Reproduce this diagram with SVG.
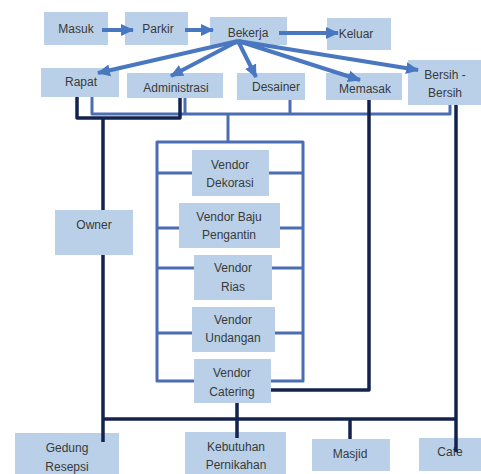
<svg xmlns="http://www.w3.org/2000/svg" width="481" height="474" viewBox="0 0 481 474">
<style>
.box{fill:#b9d0e8}
.t{font-family:"Liberation Sans",Arial,sans-serif;font-size:12px;fill:#3a3a3a;text-anchor:middle}
.arr{stroke:#4a78c0;stroke-width:4;fill:none}
.lt{stroke:#4a6db3;stroke-width:3;fill:none;stroke-linejoin:round}
.dk{stroke:#13234d;stroke-width:3.5;fill:none;stroke-linejoin:round}
</style>
<defs>
<marker id="ah" markerUnits="userSpaceOnUse" markerWidth="14" markerHeight="14" refX="12" refY="7" orient="auto">
<path d="M0,1 L13,7 L0,13 Z" fill="#4a78c0"/>
</marker>
</defs>
<rect width="481" height="474" fill="#ffffff"/>
<g id="nodes">
<g id="masuk"><rect class="box" x="44" y="12" width="64" height="33"/><text class="t" x="76" y="33">Masuk</text></g>
<g id="parkir"><rect class="box" x="125" y="12" width="63" height="33"/><text class="t" x="158" y="33">Parkir</text></g>
<g id="bekerja"><rect class="box" x="210" y="17" width="77" height="28"/><text class="t" x="248" y="37">Bekerja</text></g>
<g id="keluar"><rect class="box" x="327" y="18" width="64" height="32"/><text class="t" x="356" y="38">Keluar</text></g>
<g id="rapat"><rect class="box" x="41" y="68" width="78" height="29"/><text class="t" x="81" y="86">Rapat</text></g>
<g id="administrasi"><rect class="box" x="127" y="73" width="96" height="25"/><text class="t" x="176" y="92">Administrasi</text></g>
<g id="desainer"><rect class="box" x="237" y="73" width="68" height="27"/><text class="t" x="276" y="91">Desainer</text></g>
<g id="memasak"><rect class="box" x="326" y="73" width="76" height="27"/><text class="t" x="365" y="93">Memasak</text></g>
<g id="bersih"><rect class="box" x="408" y="60" width="73" height="45"/><text class="t" x="445" y="79">Bersih -</text><text class="t" x="445" y="97">Bersih</text></g>
<g id="owner"><rect class="box" x="55" y="210" width="78" height="45"/><text class="t" x="94" y="229">Owner</text></g>
<g id="dekorasi"><rect class="box" x="192" y="150" width="77" height="46"/><text class="t" x="230" y="169">Vendor</text><text class="t" x="230" y="187">Dekorasi</text></g>
<g id="baju"><rect class="box" x="179" y="203" width="101" height="45"/><text class="t" x="229" y="221">Vendor Baju</text><text class="t" x="229" y="239">Pengantin</text></g>
<g id="rias"><rect class="box" x="194" y="255" width="78" height="45"/><text class="t" x="233" y="272">Vendor</text><text class="t" x="233" y="291">Rias</text></g>
<g id="undangan"><rect class="box" x="192" y="307" width="83" height="45"/><text class="t" x="233" y="324">Vendor</text><text class="t" x="233" y="342">Undangan</text></g>
<g id="catering"><rect class="box" x="194" y="359" width="77" height="44"/><text class="t" x="232" y="377">Vendor</text><text class="t" x="232" y="396">Catering</text></g>
<g id="gedung"><rect class="box" x="15" y="433" width="104" height="41"/><text class="t" x="67" y="452">Gedung</text><text class="t" x="67" y="471">Resepsi</text></g>
<g id="kebutuhan"><rect class="box" x="185" y="432" width="101" height="42"/><text class="t" x="236" y="451">Kebutuhan</text><text class="t" x="236" y="469">Pernikahan</text></g>
<g id="masjid"><rect class="box" x="312" y="439" width="78" height="32"/><text class="t" x="350" y="458">Masjid</text></g>
<g id="cafe"><rect class="box" x="419" y="438" width="62" height="33"/><text class="t" x="450" y="456">Cafe</text></g>
</g>
<g id="connectors">
<path class="arr" d="M102,30 H133" marker-end="url(#ah)"/>
<path class="arr" d="M185,30 H213" marker-end="url(#ah)"/>
<path class="arr" d="M279,33 H338" marker-end="url(#ah)"/>
<path class="arr" d="M238,41 L98,73" marker-end="url(#ah)"/>
<path class="arr" d="M238,41 L171,76" marker-end="url(#ah)"/>
<path class="arr" d="M238,41 L256,77" marker-end="url(#ah)"/>
<path class="arr" d="M238,41 L360,80" marker-end="url(#ah)"/>
<path class="arr" d="M238,41 L418,70" marker-end="url(#ah)"/>
<path class="lt" d="M92,97 V114 H450 V105"/>
<path class="lt" d="M185,98 V114"/>
<path class="lt" d="M290,100 V114"/>
<path class="lt" d="M228,114 V142"/>
<path class="lt" d="M194,381 H157 V142 H303 V381 H271"/>
<path class="lt" d="M157,173 H192 M157,228 H179 M157,268 H194 M157,333 H192"/>
<path class="lt" d="M269,173 H303 M280,228 H303 M272,268 H303 M275,333 H303"/>
<path class="dk" d="M77,97 V118 H180 V98"/>
<path class="dk" d="M103,118 V210"/>
<path class="dk" d="M103,255 V442"/>
<path class="dk" d="M369,100 V390 H271"/>
<path class="dk" d="M456,105 V452"/>
<path class="dk" d="M103,419 H456"/>
<path class="dk" d="M237,403 V438"/>
<path class="dk" d="M350,419 V439"/>
</g>
</svg>
